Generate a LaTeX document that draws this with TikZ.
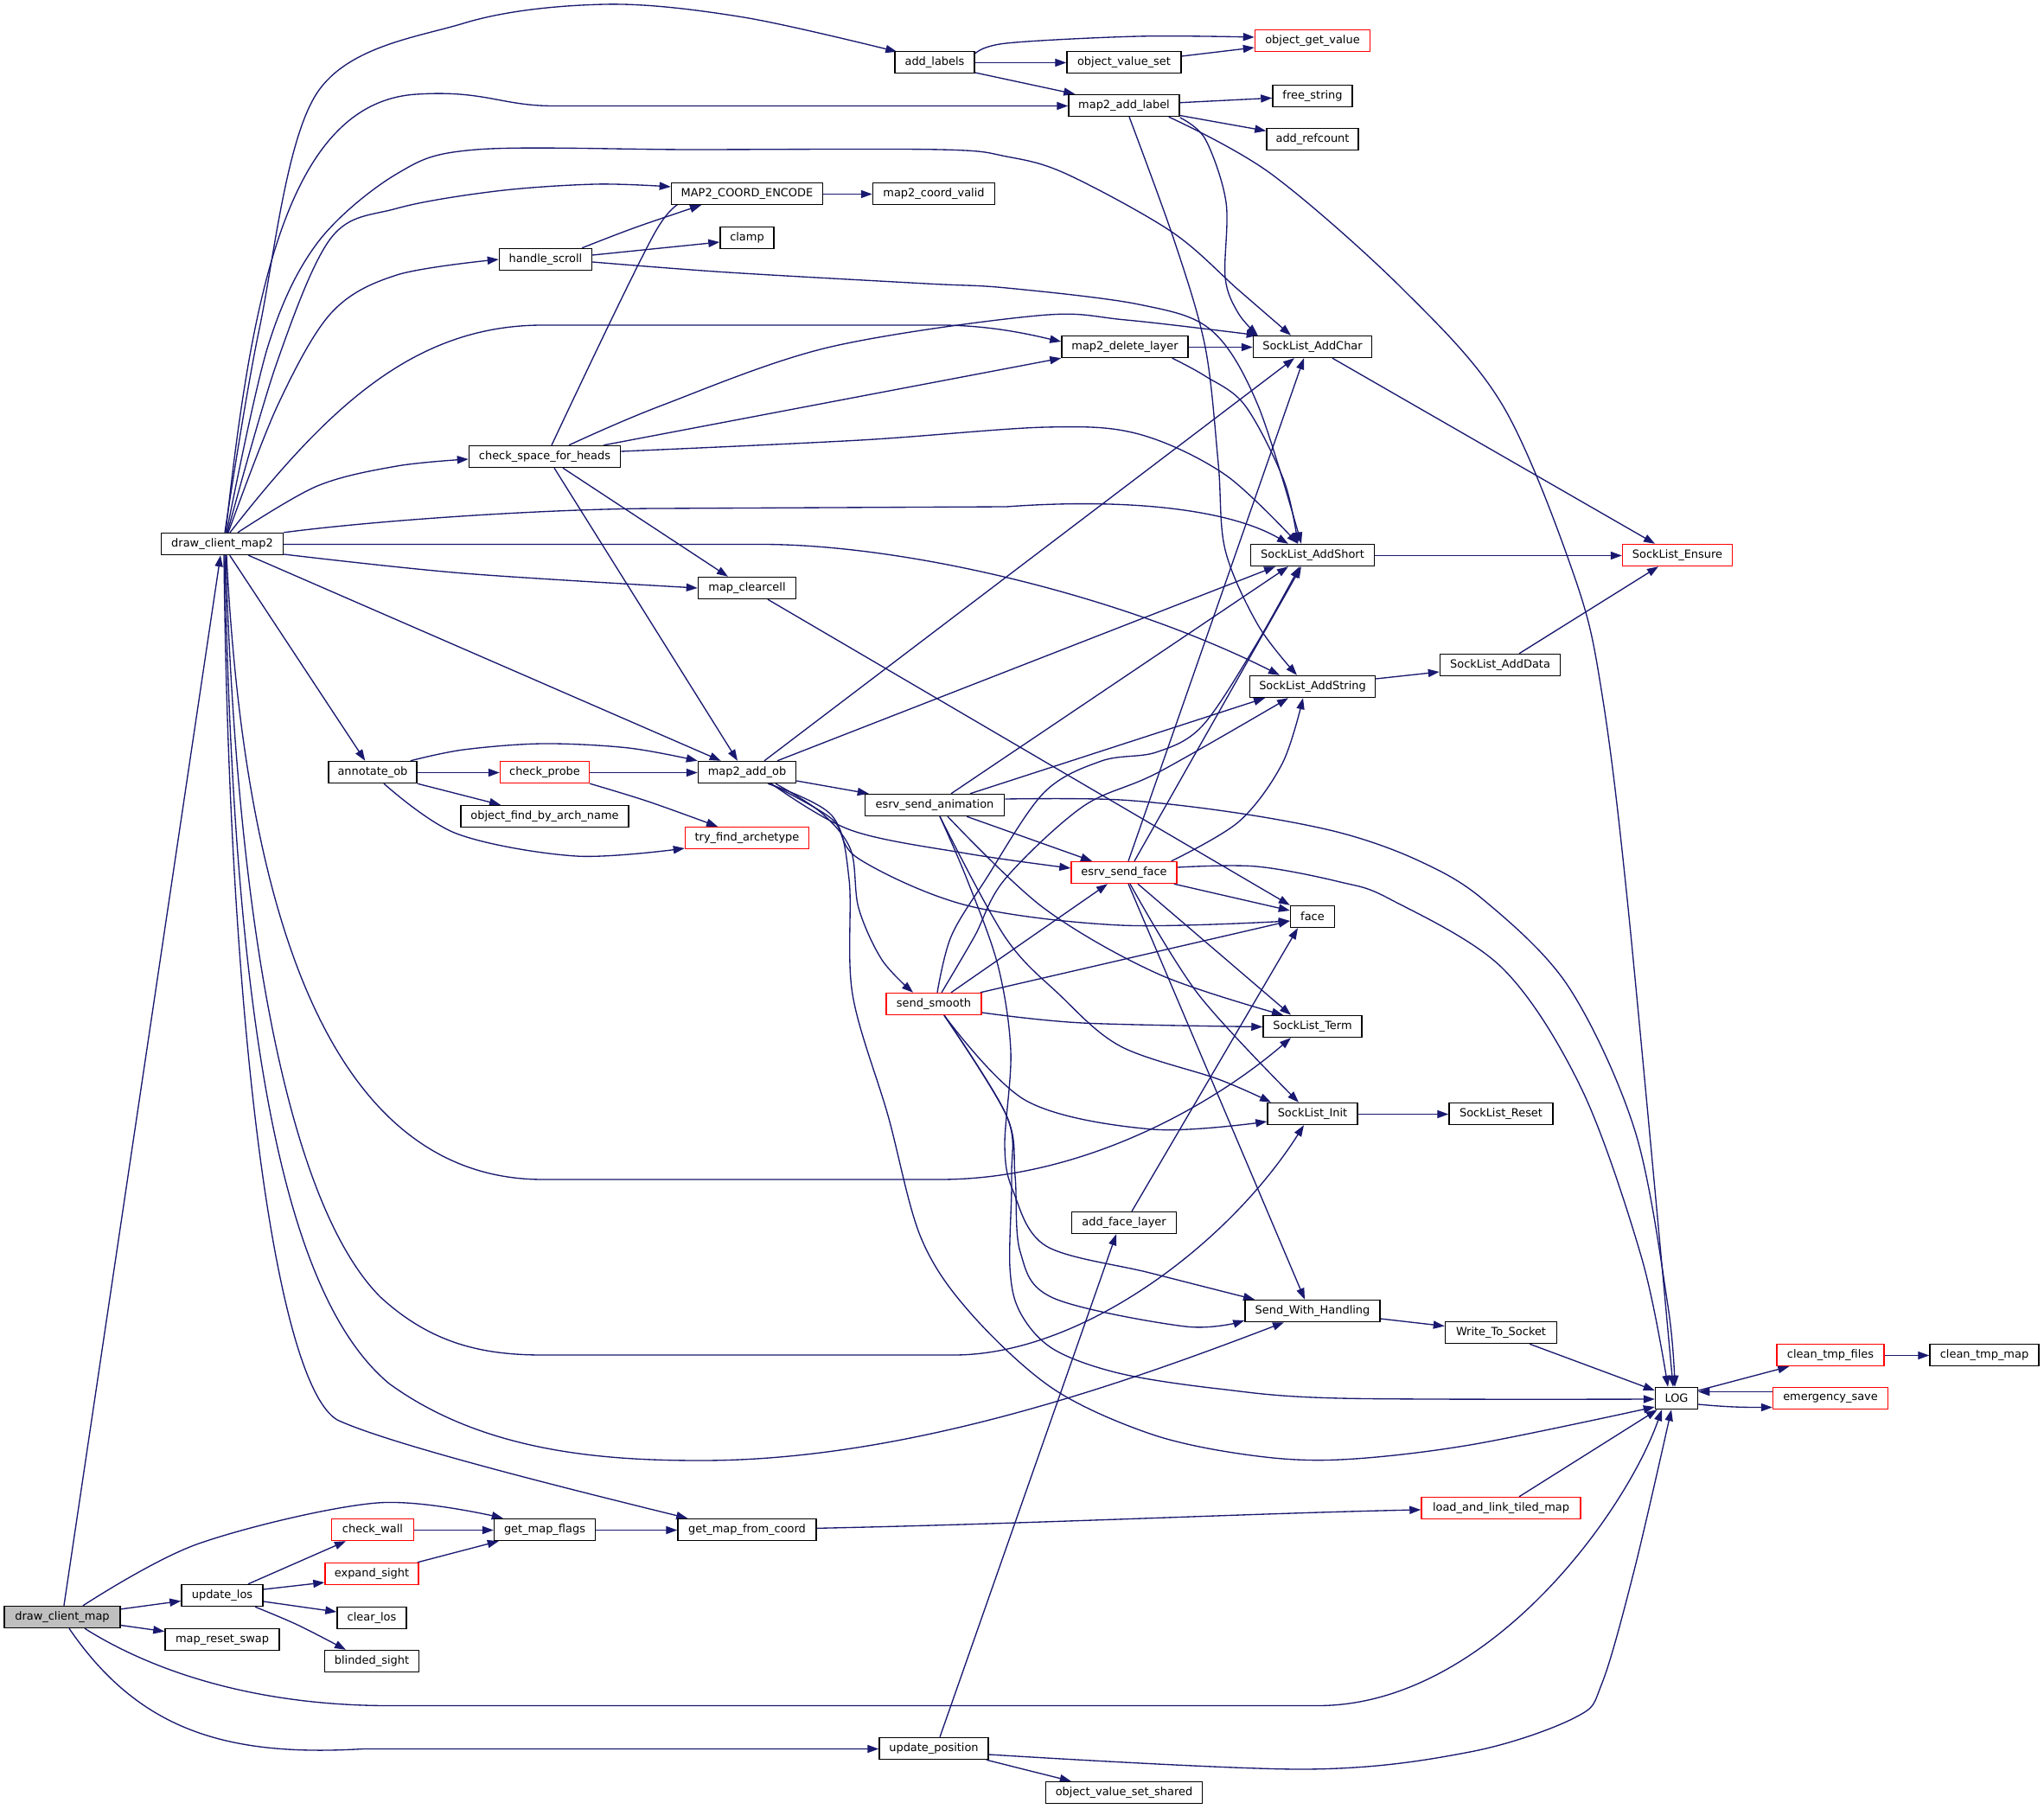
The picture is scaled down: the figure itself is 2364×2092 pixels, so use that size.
\documentclass[tikz,border=0pt]{standalone}
\usepackage{fontspec}
\newfontfamily\dvs{DejaVu Sans}
\usetikzlibrary{arrows.meta,calc}
\definecolor{edgec}{HTML}{191970}
\definecolor{grayfill}{HTML}{BFBFBF}
\pgfdeclarelayer{bg}
\pgfsetlayers{bg,main}
\begin{document}
\begin{tikzpicture}[x=0.01cm,y=-0.01cm,
  fn/.style={draw=black,line width=0.4pt,fill=white,minimum height=0.25cm,inner xsep=0.04cm,inner ysep=0pt,font=\dvs\fontsize{3.68}{4.4}\selectfont,text=black},
  fnr/.style={fn,draw=red},
  e/.style={draw=edgec,line width=0.38pt,-{Triangle[length=3.7pt,width=2.6pt]}},
  sm/.style={smooth,tension=0.55}]
\useasboundingbox (0,0) rectangle (2364,2092);
% nodes
\node[fn,fill=grayfill,minimum width=1.34cm] (dcm) at (72,1870) {draw\_client\_map};
\node[fn,minimum width=1.41cm] (dcm2) at (257,629) {draw\_client\_map2};
\node[fn,minimum width=0.92cm] (add_labels) at (1081,72) {add\_labels};
\node[fnr,minimum width=1.33cm] (ogv) at (1518,47) {object\_get\_value};
\node[fn,minimum width=1.32cm] (ovs) at (1300,72) {object\_value\_set};
\node[fn,minimum width=1.28cm] (m2al) at (1300,122) {map2\_add\_label};
\node[fn,minimum width=0.92cm] (fs) at (1518,111) {free\_string};
\node[fn,minimum width=1.06cm] (ar) at (1518,161) {add\_refcount};
\node[fn,minimum width=1.75cm] (mce) at (864,224) {MAP2\_COORD\_ENCODE};
\node[fn,minimum width=1.41cm] (mcv) at (1080,224) {map2\_coord\_valid};
\node[fn,minimum width=0.62cm] (clamp) at (864,275) {clamp};
\node[fn,minimum width=1.07cm] (hs) at (631,300) {handle\_scroll};
\node[fn,minimum width=1.46cm] (mdl) at (1301,401) {map2\_delete\_layer};
\node[fn,minimum width=1.37cm] (sac) at (1518,401) {SockList\_AddChar};
\node[fn,minimum width=1.75cm] (csh) at (630,528) {check\_space\_for\_heads};
\node[fn,minimum width=1.43cm] (sas) at (1518,642) {SockList\_AddShort};
\node[fnr,minimum width=1.27cm] (sen) at (1940,642) {SockList\_Ensure};
\node[fn,minimum width=1.13cm] (mcc) at (864,680) {map\_clearcell};
\node[fn,minimum width=1.39cm] (sad) at (1735,769) {SockList\_AddData};
\node[fn,minimum width=1.45cm] (sast) at (1518,794) {SockList\_AddString};
\node[fn,minimum width=1.02cm] (ao) at (431,893) {annotate\_ob};
\node[fnr,minimum width=1.03cm] (cp) at (630,893) {check\_probe};
\node[fn,minimum width=1.13cm] (mao) at (864,893) {map2\_add\_ob};
\node[fn,minimum width=1.61cm] (esa) at (1081,931) {esrv\_send\_animation};
\node[fn,minimum width=1.94cm] (ofan) at (630,944) {object\_find\_by\_arch\_name};
\node[fnr,minimum width=1.43cm] (tfa) at (864,969) {try\_find\_archetype};
\node[fnr,minimum width=1.22cm] (esf) at (1300,1009) {esrv\_send\_face};
\node[fn,minimum width=0.51cm] (face) at (1518,1060) {face};
\node[fnr,minimum width=1.10cm] (ss) at (1080,1161) {send\_smooth};
\node[fn,minimum width=1.14cm] (slt) at (1518,1187) {SockList\_Term};
\node[fn,minimum width=1.04cm] (sli) at (1518,1288) {SockList\_Init};
\node[fn,minimum width=1.20cm] (slr) at (1736,1288) {SockList\_Reset};
\node[fn,minimum width=1.21cm] (afl) at (1300,1414) {add\_face\_layer};
\node[fn,minimum width=1.56cm] (swh) at (1518,1516) {Send\_With\_Handling};
\node[fn,minimum width=1.29cm] (wts) at (1736,1541) {Write\_To\_Socket};
\node[fnr,minimum width=1.24cm] (ctf) at (2117,1567) {clean\_tmp\_files};
\node[fn,minimum width=1.26cm] (ctm) at (2295,1567) {clean\_tmp\_map};
\node[fn,minimum width=0.49cm] (log) at (1939,1617) {LOG};
\node[fnr,minimum width=1.33cm] (es) at (2117,1617) {emergency\_save};
\node[fnr,minimum width=1.84cm] (lltm) at (1736,1744) {load\_and\_link\_tiled\_map};
\node[fnr,minimum width=0.95cm] (cw) at (431,1769) {check\_wall};
\node[fn,minimum width=1.17cm] (gmf) at (630,1769) {get\_map\_flags};
\node[fn,minimum width=1.60cm] (gmfc) at (864,1769) {get\_map\_from\_coord};
\node[fnr,minimum width=1.08cm] (exs) at (430,1820) {expand\_sight};
\node[fn,minimum width=0.94cm] (ul) at (257,1845) {update\_los};
\node[fn,minimum width=0.80cm] (cl) at (430,1871) {clear\_los};
\node[fn,minimum width=1.32cm] (mrs) at (257,1896) {map\_reset\_swap};
\node[fn,minimum width=1.09cm] (bs) at (430,1921) {blinded\_sight};
\node[fn,minimum width=1.26cm] (up) at (1080,2022) {update\_position};
\node[fn,minimum width=1.81cm] (ovss) at (1300,2073) {object\_value\_set\_shared};
% edges
\begin{pgfonlayer}{bg}
\fill[white] (0,0) rectangle (2364,2092);
\draw[e] (dcm) -- (dcm2);
\draw[e] (dcm) -- (ul);
\draw[e] (dcm) -- (mrs);
\draw[e] plot[sm] coordinates {($(dcm2.north)+(3,0)$) (300,380) (367,107) (536,27) (700,5) (860,20) ($(add_labels.north west)+(3,1)$)};
\draw[e] ($(dcm2.north)+(4,0)$) .. controls (290,350) and (330,118) .. (482,109) .. controls (560,104) and (580,122.5) .. (640,122.5) -- ($(m2al.west)+(0,0.5)$);
\draw[e] plot[sm] coordinates {($(dcm2.north)+(5,0)$) (310,400) (367,281) (459,201) (551,173) (800,173) (1087,173) (1164,181) (1233,201) (1355,268) (1432,335) ($(sac.north)+(-25,0)$)};
\draw[e] plot[sm] coordinates {($(dcm2.north)+(6,0)$) (320,420) (383,275) (459,241) (574,221) (689,213) ($(mce.west)+(0,-8)$)};
\draw[e] plot[sm] coordinates {($(dcm2.north)+(7,0)$) (321,469) (383,362) (459,318) (hs.west)};
\draw[e] ($(dcm2.north)+(9,0)$) .. controls (380,470) and (480,376) .. (628,376) -- (1087,376) .. controls (1150,376) and (1200,389) .. ($(mdl.west)+(0,-6)$);
\draw[e] plot[sm] coordinates {($(dcm2.north)+(18,0)$) (367,562) (459,539) ($(csh.west)+(0,3)$)};
\draw[e] (dcm2.north east) .. controls (450,600) and (650,588) .. (765,588) -- (1164,586) .. controls (1300,576) and (1420,588) .. ($(sas.north)+(-28,0)$);
\draw[e] ($(dcm2.east)+(0,0.5)$) -- (880,629.5) .. controls (1050,629.5) and (1300,690) .. ($(sast.north)+(-38,0)$);
\draw[e] plot[sm] coordinates {($(dcm2.east)+(0,12)$) (536,663) (mcc.west)};
\draw[e] (dcm2) -- (mao);
\draw[e] (dcm2) -- (ao);
\draw[e] ($(dcm2.south)+(5,0)$) .. controls (280,1000) and (360,1364) .. (628,1364) -- (1087,1364) .. controls (1250,1364) and (1400,1280) .. ($(slt.south)+(-25,0)$);
\draw[e] ($(dcm2.south)+(4,0)$) .. controls (275,1100) and (340,1400) .. (440,1500) .. controls (500,1555) and (560,1567) .. (628,1567) -- (1103,1567) .. controls (1250,1567) and (1420,1440) .. ($(sli.south)+(-10,0)$);
\draw[e] ($(dcm2.south)+(3,0)$) .. controls (270,1200) and (330,1500) .. (450,1600) .. controls (560,1680) and (700,1689) .. (811,1689) .. controls (1050,1689) and (1300,1600) .. ($(swh.south)+(-33,0)$);
\draw[e] ($(dcm2.south)+(2,0)$) .. controls (265,1200) and (320,1600) .. (390,1642) .. controls (450,1670) and (650,1720) .. ($(gmfc.north west)+(12,0)$);
\draw[e] plot[sm] coordinates {($(dcm.north)+(24,0)$) (230,1785) (436,1738) ($(gmf.north west)+(11,0)$)};
\draw[e] ($(dcm.south)+(26,0)$) .. controls (180,1935) and (300,1972.5) .. (450,1972.5) -- (1524,1972.5) .. controls (1720,1972.5) and (1880,1750) .. ($(log.south)+(-17,0)$);
\draw[e] ($(dcm.south)+(8,0)$) .. controls (160,2000) and (260,2032) .. (420,2022.5) -- ($(up.west)+(0,0.5)$);
\draw[e] ($(ul.north)+(30,0)$) -- ($(cw.south)+(-31,0)$);
\draw[e] ($(ul.east)+(0,-7)$) -- ($(exs.west)+(0,10)$);
\draw[e] ($(ul.east)+(0,7)$) -- ($(cl.west)+(0,-7)$);
\draw[e] plot[sm] coordinates {($(ul.south)+(38,0)$) (344,1879) ($(bs.north)+(-30,0)$)};
\draw[e] ($(cw.east)+(0,0.5)$) -- ($(gmf.west)+(0,0.5)$);
\draw[e] ($(exs.north east)+(-2,0)$) -- ($(gmf.south west)+(6,0)$);
\draw[e] ($(gmf.east)+(0,0.5)$) -- ($(gmfc.west)+(0,0.5)$);
\draw[e] (gmfc) .. controls (1200,1762) and (1450,1750) .. (lltm);
\draw[e] ($(lltm.north)+(21,0)$) -- ($(log.south west)+(3,0)$);
\draw[e] ($(up.north)+(7,0)$) -- ($(afl.south)+(-9,0)$);
\draw[e] ($(up.south east)+(-3,0)$) -- ($(ovss.north west)+(30,0)$);
\draw[e] plot[sm] coordinates {($(up.east)+(0,7)$) (1508,2046) (1700,2026) (1822,1986) (1853,1946) (1891,1812) ($(log.south)+(-6,0)$)};
\draw[e] ($(afl.north)+(9,0)$) -- ($(face.south)+(-17,0)$);
\draw[e] (swh) -- (wts);
\draw[e] ($(wts.south)+(33,0)$) -- ($(log.west)+(0,-9)$);
\draw[e] ($(log.east)+(0,-9)$) -- ($(ctf.south west)+(15,0)$);
\draw[e] ($(es.west)+(0,-7.5)$) -- ($(log.east)+(0,-7.5)$);
\draw[e] ($(log.east)+(0,7)$) .. controls (2000,1627.5) and (2020,1627.5) .. ($(es.west)+(0,10.5)$);
\draw[e] ($(ctf.east)+(0,0.5)$) -- ($(ctm.west)+(0,0.5)$);
\draw[e] ($(sli.east)+(0,0.5)$) -- ($(slr.west)+(0,0.5)$);
\draw[e] plot[sm] coordinates {($(add_labels.east)+(0,-10)$) (1164,50) (1317,42) ($(ogv.west)+(0,-4)$)};
\draw[e] ($(add_labels.east)+(0,0.5)$) -- ($(ovs.west)+(0,0.5)$);
\draw[e] ($(add_labels.east)+(0,12)$) -- ($(m2al.north west)+(8,0)$);
\draw[e] ($(ovs.east)+(0,-7)$) -- ($(ogv.west)+(0,8)$);
\draw[e] (m2al) -- (fs);
\draw[e] (m2al) -- (ar);
\draw[e] plot[sm] coordinates {($(m2al.east)+(0,14)$) (1394,161) (1418,234) (1417,321) (1432,362) ($(sac.north west)+(6,0)$)};
\draw[e] plot[sm] coordinates {($(m2al.south)+(6,0)$) (1359,281) (1394,402) (1409,536) (1417,636) (1455,723) ($(sast.north)+(-18,0)$)};
\draw[e] plot[sm] coordinates {($(m2al.south east)+(-13,0)$) (1470,201) (1623,335) (1738,469) (1822,670) (1853,804) (1883,1050) ($(log.north)+(-4,0)$)};
\draw[e] ($(mce.east)+(0,0.5)$) -- ($(mcv.west)+(0,0.5)$);
\draw[e] plot[sm] coordinates {($(hs.north)+(42,0)$) (735,263) ($(mce.south)+(-53,0)$)};
\draw[e] ($(hs.east)+(0,-5)$) -- ($(clamp.west)+(0,5)$);
\draw[e] plot[sm] coordinates {($(hs.east)+(0,3)$) (842,315) (1071,328) (1164,333) (1317,352) (1401,382) (1455,469) ($(sas.north)+(-13,0)$)};
\draw[e] plot[sm] coordinates {($(csh.north)+(8,0)$) (758,268) ($(mce.south)+(-68,0)$)};
\draw[e] ($(csh.north east)+(-20,0)$) -- (mdl.south west);
\draw[e] plot[sm] coordinates {($(csh.north)+(28,0)$) (765,469) (957,402) (1200,365) (1302,370) ($(sac.north west)+(6,0)$)};
\draw[e] plot[sm] coordinates {($(csh.east)+(0,-6)$) (995,509) (1210,494) (1317,502) (1417,549) ($(sas.north)+(-17,0)$)};
\draw[e] ($(csh.south)+(21,0)$) -- ($(mcc.north)+(-22,0)$);
\draw[e] ($(csh.south)+(11,0)$) -- ($(mao.north)+(-11,0)$);
\draw[e] ($(mdl.east)+(0,0.5)$) -- ($(sac.west)+(0,0.5)$);
\draw[e] plot[sm] coordinates {($(mdl.south east)+(-19,0)$) (1394,435) (1440,469) (1485,556) ($(sas.north)+(-17,0)$)};
\draw[e] ($(sac.south)+(23,0)$) -- ($(sen.north)+(-26,0)$);
\draw[e] ($(sas.east)+(0,0.5)$) -- ($(sen.west)+(0,0.5)$);
\draw[e] ($(sast.east)+(0,-9)$) -- ($(sad.west)+(0,8)$);
\draw[e] ($(sad.north)+(22,0)$) -- ($(sen.south)+(-22,0)$);
\draw[e] ($(mcc.south)+(24,0)$) -- (face.north west);
\draw[e] plot[sm] coordinates {($(ao.north east)+(-8,0)$) (536,867) (628,860) (727,865) (mao.north west)};
\draw[e] ($(ao.east)+(0,0.5)$) -- ($(cp.west)+(0,0.5)$);
\draw[e] (ao.south east) -- ($(ofan.north)+(-51,0)$);
\draw[e] plot[sm] coordinates {($(ao.south)+(13,0)$) (528,964) (666,990) ($(tfa.west)+(0,12)$)};
\draw[e] ($(cp.east)+(0,0.5)$) -- ($(mao.west)+(0,0.5)$);
\draw[e] plot[sm] coordinates {(cp.south east) (750,927) ($(tfa.north)+(-34,0)$)};
\draw[e] ($(mao.north)+(20,0)$) -- ($(sac.south)+(-21,0)$);
\draw[e] ($(mao.north)+(35,0)$) -- ($(sas.south)+(-43,0)$);
\draw[e] ($(mao.east)+(0,10)$) -- ($(esa.north west)+(5,0)$);
\draw[e] plot[sm] coordinates {($(mao.south)+(28,0)$) (984,960) (1118,987) ($(esf.west)+(0,-5)$)};
\draw[e] plot[sm] coordinates {($(mao.south)+(26,0)$) (962,947) (993,993) (1118,1047) (1296,1070) ($(face.west)+(0,5)$)};
\draw[e] plot[sm] coordinates {($(mao.south)+(33,0)$) (950,940) (984,983) (993,1050) (1020,1110) ($(ss.north)+(-24,0)$)};
\draw[e] plot[sm] coordinates {($(mao.south)+(24,0)$) (962,943) (982,1017) (986,1150) (1027,1290) (1065,1431) (1122,1518) (1218,1606) (1333,1659) (1447,1683) (1550,1688) (1700,1671) ($(log.west)+(0,10)$)};
\draw[e] ($(esa.north)+(19,0)$) -- ($(sas.south)+(-28,0)$);
\draw[e] ($(esa.north)+(41,0)$) -- ($(sast.south)+(-55,0)$);
\draw[e] ($(esa.south)+(37,0)$) -- ($(esf.north)+(-37,0)$);
\draw[e] plot[sm] coordinates {($(esa.south)+(15,0)$) (1207,1050) (1341,1127) ($(slt.north)+(-34,0)$)};
\draw[e] plot[sm] coordinates {($(esa.south)+(6,0)$) (1162,1083) (1225,1150) (1296,1210) (1409,1248) ($(sli.north)+(-48,0)$)};
\draw[e] plot[sm] coordinates {($(esa.south)+(6,0)$) (1118,1016) (1154,1116) (1169,1216) (1162,1325) (1172,1378) (1210,1441) (1330,1472) ($(swh.north)+(-67,0)$)};
\draw[e] plot[sm] coordinates {($(esa.east)+(0,-7)$) (1296,925) (1430,940) (1550,963) (1640,995) (1715,1040) (1814,1141) (1891,1308) (1929,1510) ($(log.north)+(-2,0)$)};
\draw[e] ($(esf.north)+(5,0)$) -- ($(sac.south)+(-10,0)$);
\draw[e] ($(esf.north)+(12,0)$) -- ($(sas.south)+(-13,0)$);
\draw[e] plot[sm] coordinates {($(esf.north east)+(-7,0)$) (1433,950) (1483,883) ($(sast.south)+(-11,0)$)};
\draw[e] ($(esf.south east)+(-4,0)$) -- ($(face.west)+(0,-7)$);
\draw[e] plot[sm] coordinates {($(esf.east)+(0,-6)$) (1453,1002) (1550,1020) (1608,1040) (1738,1120) (1830,1261) (1899,1456) ($(log.north)+(-10,0)$)};
\draw[e] ($(esf.south)+(16,0)$) -- ($(slt.north)+(-25,0)$);
\draw[e] plot[sm] coordinates {($(esf.south)+(7,0)$) (1386,1150) ($(sli.north)+(-16,0)$)};
\draw[e] ($(esf.south)+(5,0)$) -- ($(swh.north)+(-9,0)$);
\draw[e] plot[sm] coordinates {($(ss.north)+(4,0)$) (1100,1083) (1140,1017) (1207,917) (1274,880) (1337,870) (1390,840) (1450,750) ($(sas.south)+(-15,0)$)};
\draw[e] plot[sm] coordinates {($(ss.north)+(9,0)$) (1127,1083) (1162,1017) (1252,933) (1340,893) ($(sast.south)+(-28,0)$)};
\draw[e] ($(ss.north)+(20,0)$) -- ($(esf.south)+(-19,0)$);
\draw[e] ($(ss.north east)+(-2,0)$) -- ($(face.west)+(0,5)$);
\draw[e] plot[sm] coordinates {($(ss.east)+(0,10)$) (1252,1183) ($(slt.west)+(0,0.5)$)};
\draw[e] plot[sm] coordinates {($(ss.south)+(12,0)$) (1187,1273) (1333,1306) ($(sli.west)+(0,9)$)};
\draw[e] plot[sm] coordinates {($(ss.south)+(12,0)$) (1164,1290) (1174,1360) (1180,1448) (1218,1501) (1371,1534) ($(swh.west)+(0,11)$)};
\draw[e] plot[sm] coordinates {($(ss.south)+(12,0)$) (1164,1290) (1170,1360) (1168,1466) (1180,1518) (1218,1560) (1294,1588) (1409,1606) (1550,1617) ($(log.west)+(0,1)$)};
\end{pgfonlayer}
\end{tikzpicture}
\end{document}
